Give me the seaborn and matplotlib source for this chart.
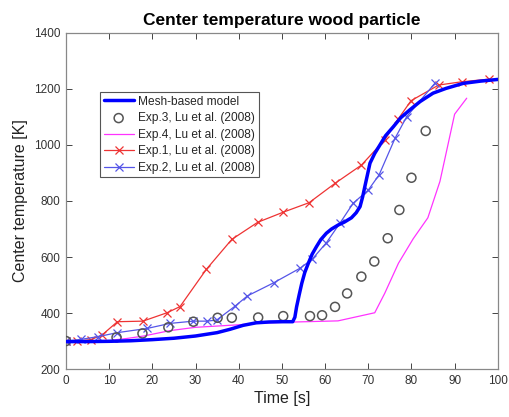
import matplotlib
matplotlib.use("Agg")
import matplotlib.pyplot as plt
import seaborn as sns
import pandas as pd

# Mesh-based model
model_t = [0, 5, 10, 15, 20, 25, 30, 35, 38, 41, 44, 47, 50, 52.5, 53.0, 53.4, 54.0, 54.6, 55.3, 56.1, 57.0, 58.0,
           59.0, 60.3, 61.5, 63.0, 64.5, 66.1, 67.2, 68.1, 68.7, 69.2, 69.8, 70.4, 71.5, 72.7, 74.0, 75.8,
           77.5, 79.6, 82.0, 85.0, 88.0, 92.0, 96.0, 100.0]
model_T = [298, 298, 299, 301, 305, 310, 318, 330, 342, 356, 365, 368, 369, 369, 385, 422, 465, 506, 545, 577, 610, 637,
           662, 685, 700, 714, 725, 740, 758, 780, 815, 851, 893, 935, 970, 1000, 1033, 1065,
           1097, 1125, 1155, 1185, 1202, 1220, 1228, 1234]

# Exp.3 (circles)
exp3_t = [0, 11.7, 17.7, 23.7, 29.5, 35.1, 38.4, 44.5, 50.3, 56.5, 59.3, 62.3, 65.1, 68.4, 71.4, 74.5, 77.2, 80.0, 83.3]
exp3_T = [300, 313, 327, 349, 369, 383, 383, 384, 389, 389, 392, 422, 470, 530, 584, 667, 768, 883, 1050]

# Exp.4 (magenta line)
exp4_t = [0, 10, 14, 18, 24, 30, 40, 45, 53, 63, 71.5, 73.8, 77.0, 80.4, 83.8, 86.6, 90.0, 92.8]
exp4_T = [300, 302, 309, 318, 337, 349, 358, 364, 368, 372, 401, 470, 578, 665, 740, 870, 1110, 1167]

# Exp.1 (red, x markers)
exp1_t = [0, 2.6, 5.7, 8.3, 11.9, 17.8, 23.4, 26.4, 32.5, 38.4, 44.4, 50.3, 56.3, 62.3, 68.4, 73.8, 76.9, 79.9, 86.3, 91.8, 98.0]
exp1_T = [300, 300, 305, 321, 369, 371, 401, 423, 556, 663, 724, 760, 794, 863, 928, 1018, 1092, 1158, 1214, 1226, 1235]

# Exp.2 (blue, x markers)
exp2_t = [0, 3.5, 7.5, 11.9, 18.8, 24.1, 29.5, 32.6, 34.9, 39.1, 42.0, 48.1, 54.2, 57.0, 60.3, 63.4, 66.5, 70.0, 72.5, 76.2, 78.9, 85.4]
exp2_T = [300, 306, 316, 330, 345, 363, 371, 371, 375, 424, 461, 508, 560, 592, 651, 720, 792, 839, 893, 1024, 1101, 1220]

x_ticks = [0, 10, 20, 30, 40, 50, 60, 70, 80, 90, 100]
y_ticks = [200, 400, 600, 800, 1000, 1200, 1400]

sns.set_theme(style="white")
plt.rcParams['font.family'] = ['Liberation Sans', 'DejaVu Sans']

fig = plt.figure(figsize=(5.09, 4.17), dpi=100)
ax = fig.add_axes([0.1297, 0.115, 0.8483, 0.806])

df_model = pd.DataFrame({"t": model_t, "T": model_T})
df3 = pd.DataFrame({"t": exp3_t, "T": exp3_T})
df4 = pd.DataFrame({"t": exp4_t, "T": exp4_T})
df1 = pd.DataFrame({"t": exp1_t, "T": exp1_T})
df2 = pd.DataFrame({"t": exp2_t, "T": exp2_T})

sns.lineplot(data=df4, x="t", y="T", ax=ax, sort=False, estimator=None, color="#ff33ff", lw=0.9,
             label="Exp.4, Lu et al. (2008)", zorder=2)
sns.lineplot(data=df1, x="t", y="T", ax=ax, sort=False, estimator=None, color="#ee3333", lw=0.9,
             marker="x", markersize=6, markeredgewidth=0.9, markeredgecolor="#ee3333",
             label="Exp.1, Lu et al. (2008)", zorder=3)
sns.lineplot(data=df2, x="t", y="T", ax=ax, sort=False, estimator=None, color="#5555e8", lw=0.9,
             marker="x", markersize=6, markeredgewidth=0.9, markeredgecolor="#5555e8",
             label="Exp.2, Lu et al. (2008)", zorder=3)
sns.scatterplot(data=df3, x="t", y="T", ax=ax, marker="o", s=42, facecolor="none", edgecolor="#555555",
                linewidth=1.1, label="Exp.3, Lu et al. (2008)", zorder=4)
sns.lineplot(data=df_model, x="t", y="T", ax=ax, sort=False, estimator=None, color="#0000ff", lw=2.5,
             label="Mesh-based model", zorder=5)

ax.set_xlim(0, 100)
ax.set_ylim(200, 1400)
ax.set_xticks(x_ticks)
ax.set_yticks(y_ticks)
ax.tick_params(direction="in", length=4, width=0.7, colors="#444444", labelsize=8.5,
               top=True, right=True, bottom=True, left=True, pad=4)
for lab in ax.get_xticklabels() + ax.get_yticklabels():
    lab.set_color("#333333")
for sp in ax.spines.values():
    sp.set_color("#888888")
    sp.set_linewidth(0.9)

ax.set_xlabel("Time [s]", fontsize=11.5, color="#222222", labelpad=3)
ax.set_ylabel("Center temperature [K]", fontsize=11.5, color="#222222", labelpad=4)
ax.set_title("Center temperature wood particle", fontsize=12.5, fontweight="bold", color="black", pad=6)

handles, labels = ax.get_legend_handles_labels()
order = ["Mesh-based model", "Exp.3, Lu et al. (2008)", "Exp.4, Lu et al. (2008)",
         "Exp.1, Lu et al. (2008)", "Exp.2, Lu et al. (2008)"]
hmap = dict(zip(labels, handles))
leg = ax.legend([hmap[k] for k in order], order, loc="upper left", bbox_to_anchor=(0.079, 0.824),
                fontsize=8.6, frameon=True, fancybox=False, framealpha=1, edgecolor="#555555",
                borderpad=0.3, labelspacing=0.38, handlelength=2.5, handletextpad=0.4, borderaxespad=0)
leg.get_frame().set_linewidth(0.8)

fig.savefig("out.png", dpi=100)
